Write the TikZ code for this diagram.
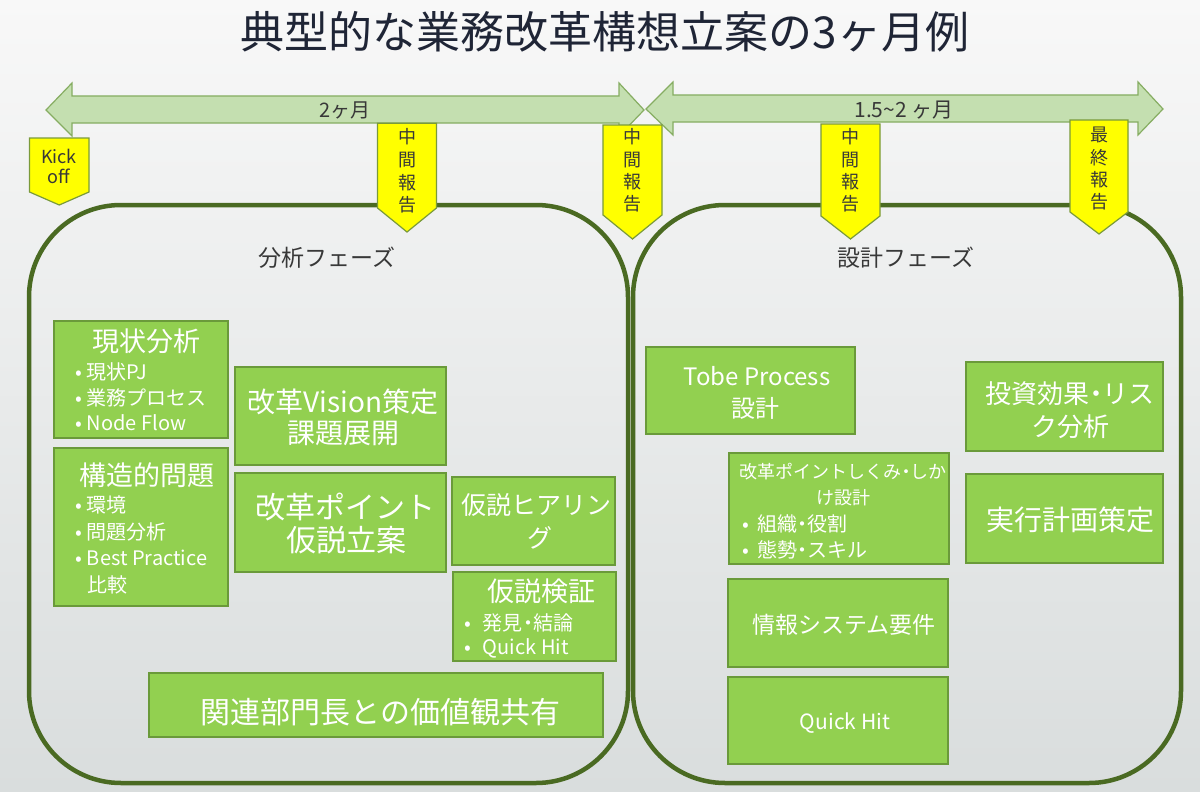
\documentclass[tikz,border=0pt]{standalone}
\usepackage{fontspec}
\newfontfamily\jp{Noto Sans CJK JP}
\definecolor{gfill}{HTML}{92D050}
\definecolor{gline}{HTML}{6A9A3A}
\definecolor{olive}{HTML}{4A6A22}
\definecolor{arrfill}{HTML}{C4DFB0}
\definecolor{arrline}{HTML}{86AD62}
\definecolor{ylw}{HTML}{FFFF00}
\definecolor{yline}{HTML}{7A9A3A}
\definecolor{titlec}{HTML}{1F2536}
\definecolor{txt}{HTML}{383838}
\definecolor{bgtop}{HTML}{F8F8F8}
\definecolor{bgbot}{HTML}{D9DDDD}
\newcommand\bitem[2]{\makebox[0pt]{•}\hspace{#1pt}#2}
\newcommand\nd{\hspace{-0.25em}・\hspace{-0.25em}}
\newcommand\ypent[5]{\draw[ybox] (#1,#3) -- (#2,#3) -- (#2,#4) -- ({(#1+#2)/2},#5) -- (#1,#4) -- cycle;}
\begin{document}
\begin{tikzpicture}[x=1pt,y=-1pt,
  every node/.style={inner sep=0pt,outer sep=0pt},
  t/.style={font={\jp\fontsize{#1pt}{#1pt}\selectfont},text height={0.88*#1pt},text depth={0.12*#1pt}},
  wt/.style={t=#1,text=white},
  dt/.style={t=#1,text=txt},
  arr/.style={draw=arrline,fill=arrfill,line width=1.2pt,line join=miter},
  phase/.style={draw=olive,line width=4.5pt,rounded corners=92pt},
  ybox/.style={draw=yline,fill=ylw,line width=1.2pt},
  gbox/.style={draw=gline,fill=gfill,line width=1.3pt}]
\useasboundingbox (0,0) rectangle (1200,792);
\shade[top color=bgtop,bottom color=bgbot] (0,0) rectangle (1200,792);
% title
\node[t=44,text=titlec] (title) at (605,31.7) {典型的な業務改革構想立案の3ヶ月例};
% timeline arrows
\draw[arr] (46,110) -- (72,83) -- (72,96) -- (619,96) -- (619,83) -- (644,110) -- (619,136) -- (619,123) -- (72,123) -- (72,136) -- cycle;
\draw[arr] (646,109) -- (673,82) -- (673,95) -- (1138,95) -- (1138,82) -- (1163,109) -- (1138,135) -- (1138,122) -- (673,122) -- (673,135) -- cycle;
\node[dt=20] (p1) at (345,110) {2ヶ月};
\node[dt=21] (p2) at (904,110) {1.5\textasciitilde2 ヶ月};
% phases
\draw[phase] (29,205) rectangle (628,783);
\draw[phase] (633,205) rectangle (1181,783);
\node[dt=23] (ph1) at (327,258) {分析フェーズ};
\node[dt=23] (ph2) at (906,258) {設計フェーズ};
% milestones
\ypent{29.5}{89}{138}{192}{205}
\node[dt=18] (ko1) at (59,156.7) {Kick};
\node[dt=18] (ko2) at (59,176.7) {off};
\ypent{377.5}{436.5}{123.3}{208}{232}
\foreach \c/\y [count=\i] in {中/137,間/160,報/183,告/205} \node[dt=18] (ma\i) at (407,\y) {\c};
\ypent{603}{662}{125}{215}{239}
\foreach \c/\y [count=\i] in {中/137,間/160,報/182,告/204} \node[dt=18] (mb\i) at (632.5,\y) {\c};
\ypent{821}{880}{124}{216}{239}
\foreach \c/\y [count=\i] in {中/137,間/160,報/182,告/204} \node[dt=18] (mc\i) at (850.5,\y) {\c};
\ypent{1070}{1128}{120}{212}{234}
\foreach \c/\y [count=\i] in {最/135,終/158,報/180,告/202} \node[dt=18] (md\i) at (1099,\y) {\c};
% analysis boxes
\node[gbox,minimum width=174pt,minimum height=117pt] (A) at (141,379.5) {};
\node[wt=27] (A0) at (146.7,341.7) {現状分析};
\node[wt=20,anchor=west] (A1) at (79,371.7) {\bitem{8}{現状PJ}};
\node[wt=20,anchor=west] (A2) at (79,398) {\bitem{8}{業務プロセス}};
\node[wt=20,anchor=west] (A3) at (79,423.3) {\bitem{8}{Node Flow}};
\node[gbox,minimum width=174pt,minimum height=158pt] (B) at (141,527) {};
\node[wt=27] (B0) at (146.5,475) {構造的問題};
\node[wt=20,anchor=west] (B1) at (79,505) {\bitem{8}{環境}};
\node[wt=20,anchor=west] (B2) at (79,531.7) {\bitem{8}{問題分析}};
\node[wt=20,anchor=west] (B3) at (79,558.3) {\bitem{8}{Best Practice}};
\node[wt=20,anchor=west] (B4) at (87,585) {比較};
\node[gbox,minimum width=211pt,minimum height=98pt] (C) at (340.5,416) {};
\node[wt=28] (C1) at (343,401.7) {改革Vision策定};
\node[wt=28] (C2) at (343,433.3) {課題展開};
\node[gbox,minimum width=211pt,minimum height=99pt] (D) at (340.5,522.5) {};
\node[wt=30] (D1) at (345,506.7) {改革ポイント};
\node[wt=30] (D2) at (346,540) {仮説立案};
\node[gbox,minimum width=163pt,minimum height=88pt] (E) at (533.5,521) {};
\node[wt=25] (E1) at (536,505) {仮説ヒアリン};
\node[wt=25] (E2) at (540,538.3) {グ};
\node[gbox,minimum width=163pt,minimum height=89pt] (F) at (534.5,616.5) {};
\node[wt=27] (F0) at (541,591.7) {仮説検証};
\node[wt=20,anchor=west] (F1) at (468,623.3) {\bitem{15}{発見\nd 結論}};
\node[wt=20,anchor=west] (F2) at (468,646.7) {\bitem{15}{Quick Hit}};
\node[gbox,minimum width=454pt,minimum height=64pt] (G) at (376,705) {};
\node[wt=30] (G1) at (380.8,711.7) {関連部門長との価値観共有};
% design boxes
\node[gbox,minimum width=209pt,minimum height=87pt] (H) at (750.5,390.5) {};
\node[wt=24] (H1) at (757,376.7) {Tobe Process};
\node[wt=24] (H2) at (755.5,408.3) {設計};
\node[gbox,minimum width=197pt,minimum height=89pt] (I) at (1064.5,406.5) {};
\node[wt=26] (I1) at (1070,393.3) {投資効果\nd リス};
\node[wt=26] (I2) at (1070,426.7) {ク分析};
\node[gbox,minimum width=220pt,minimum height=111pt] (J) at (839,508.5) {};
\node[wt=18] (J1) at (843,471.7) {改革ポイントしくみ\nd しか};
\node[wt=18] (J2) at (843,498) {け設計};
\node[wt=20,anchor=west] (J3) at (745.6,524) {\bitem{12}{組織\nd 役割}};
\node[wt=20,anchor=west] (J4) at (745.6,550) {\bitem{12}{態勢\nd スキル}};
\node[gbox,minimum width=197pt,minimum height=89pt] (K) at (1064.5,518.5) {};
\node[wt=28] (K1) at (1070,520) {実行計画策定};
\node[gbox,minimum width=220pt,minimum height=88pt] (L) at (838,623) {};
\node[wt=23] (L1) at (844,625) {情報システム要件};
\node[gbox,minimum width=220pt,minimum height=87pt] (M) at (838,720.5) {};
\node[wt=21] (M1) at (845,721.7) {Quick Hit};
\end{tikzpicture}
\end{document}
